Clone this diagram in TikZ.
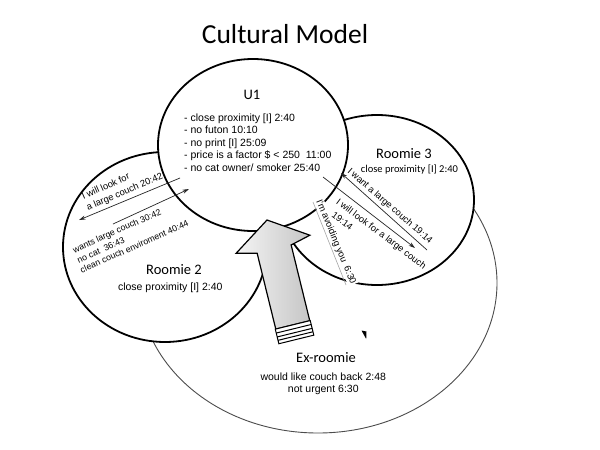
\documentclass[tikz,border=0pt]{standalone}
\usepackage{fontspec}
\setmainfont{Liberation Sans}
\newfontfamily\calfont{Carlito}
\usetikzlibrary{arrows.meta,shapes.geometric}
\begin{document}
\begin{tikzpicture}[x=1pt,y=-1pt,
  bubble/.style={ellipse,draw=black,line width=1.8pt,fill=white,inner sep=0pt},
  exbubble/.style={ellipse,draw=black!70,line width=0.9pt,inner sep=0pt},
  conn/.style={draw=black!85,line width=0.7pt},
  tipend/.style={-{Stealth[length=6.5pt,width=4pt]}},
  headtxt/.style={font=\calfont\fontsize{14.5}{16}\selectfont,inner sep=0pt},
  body/.style={font=\fontsize{10.5}{12.6}\selectfont,inner sep=0pt},
  rtxt/.style={font=\fontsize{9.3}{11}\selectfont,inner sep=0pt,anchor=west},
  stxt/.style={font=\fontsize{8.8}{10}\selectfont,inner sep=0pt,anchor=west},
]
\fill[white] (0,0) rectangle (600,450);
\useasboundingbox (0,0) rectangle (600,450);

% bubbles
\node[exbubble,minimum width=358pt,minimum height=300pt] (ex) at (318,283) {};
\node[bubble,minimum width=204pt,minimum height=190pt] (r2) at (165,247) {};
\node[bubble,minimum width=194pt,minimum height=170pt] (r3) at (377,200) {};
\node[bubble,minimum width=190pt,minimum height=172pt] (u1) at (253,145) {};

% big arrow
\begin{scope}[shift={(267,220)},rotate=13.8]
\shadedraw[left color=gray!8,right color=gray!45,draw=black,line width=1.2pt,line join=miter]
  (0,0) -- (38,25) -- (17.5,30) -- (17.5,108) -- (-17.5,108) -- (-17.5,30) -- (-38,25) -- cycle;
\filldraw[fill=white,draw=black,line width=1pt] (-18,108) rectangle (18,123);
\draw[line width=1pt] (-18,112) -- (18,112) (-18,116) -- (18,116) (-18,119.5) -- (18,119.5);
\end{scope}

% title
\node[font=\calfont\fontsize{27.5}{30}\selectfont,anchor=base,inner sep=0pt] (title) at (285,43.5) {Cultural Model};

% U1 text
\node[headtxt] (tu1) at (252,95) {U1};
\node[body,anchor=base west] (u1a) at (184,121) {- close proximity [I] 2:40};
\node[body,anchor=base west] (u1b) at (184,133.6) {- no futon 10:10};
\node[body,anchor=base west] (u1c) at (184,146.2) {- no print [I] 25:09};
\node[body,anchor=base west] (u1d) at (184,158.8) {- price is a factor \$ < 250\ \ 11:00};
\node[body,anchor=base west] (u1e) at (184,171.4) {- no cat owner/ smoker 25:40};

% Roomie 3 text
\node[headtxt] (tr3) at (404,154) {Roomie 3};
\node[font=\calfont\fontsize{10.5}{12}\selectfont,inner sep=0pt] (r3a) at (409.5,169.5) {close proximity [I] 2:40};

% Roomie 2 text
\node[headtxt] (tr2) at (174,270) {Roomie 2};
\node[body] (r2a) at (170.3,288) {close proximity [I] 2:40};

% Ex-roomie text
\node[headtxt] (tex) at (326,358) {Ex-roomie};
\node[body] (exa) at (323.3,377) {would like couch back 2:48};
\node[body] (exb) at (323.3,389.5) {not urgent 6:30};

% U1 <-> Roomie 2
\coordinate (a1s) at (180,178); \coordinate (a1e) at (79,220);
\draw[conn,tipend] (a1s) -- (a1e);
\node[rtxt,rotate=24] (t1a) at (82,196.5) {I will look for};
\node[rtxt,rotate=23] (t1b) at (87,208.5) {a large couch 20:42};

\coordinate (a2s) at (113,224); \coordinate (a2e) at (189,189);
\draw[conn,tipend] (a2s) -- (a2e);
\node[stxt,rotate=24] (t2a) at (73.5,251) {wants large couch 30:42};
\node[stxt,rotate=24] (t2b) at (77.5,261) {no cat\ \ 36:43};
\node[stxt,rotate=24] (t2c) at (80.5,270.5) {clean couch enviroment 40:44};

% U1 <-> Roomie 3
\coordinate (a3s) at (427,250); \coordinate (a3e) at (341,173);
\draw[conn,tipend] (a3s) -- (a3e);
\node[rtxt,rotate=-41] (t3a) at (348.5,170.3) {I want a large couch 19:14};

\coordinate (a4s) at (323,177); \coordinate (a4e) at (415,248);
\draw[conn,tipend] (a4s) -- (a4e);
\node[rtxt,rotate=-37] (t4a) at (337,201.5) {I will look for a large couch};
\node[rtxt,rotate=-37] (t4b) at (333,214) {19:14};

% Ex-roomie -> U1
\node[rtxt,rotate=-67.5,fill=white,inner sep=0.8pt] (t5) at (318,199.2) {I'm avoiding you\ \ 6:30};
\coordinate (a5s) at (313,202); \coordinate (a5e) at (346,285);
\draw[draw=black!35,line width=0.6pt] (a5s) -- (a5e);

% small stray arrowhead
\fill[black] (361.5,330.5) -- (366.5,331.5) -- (366.2,339) -- cycle;
\end{tikzpicture}
\end{document}
